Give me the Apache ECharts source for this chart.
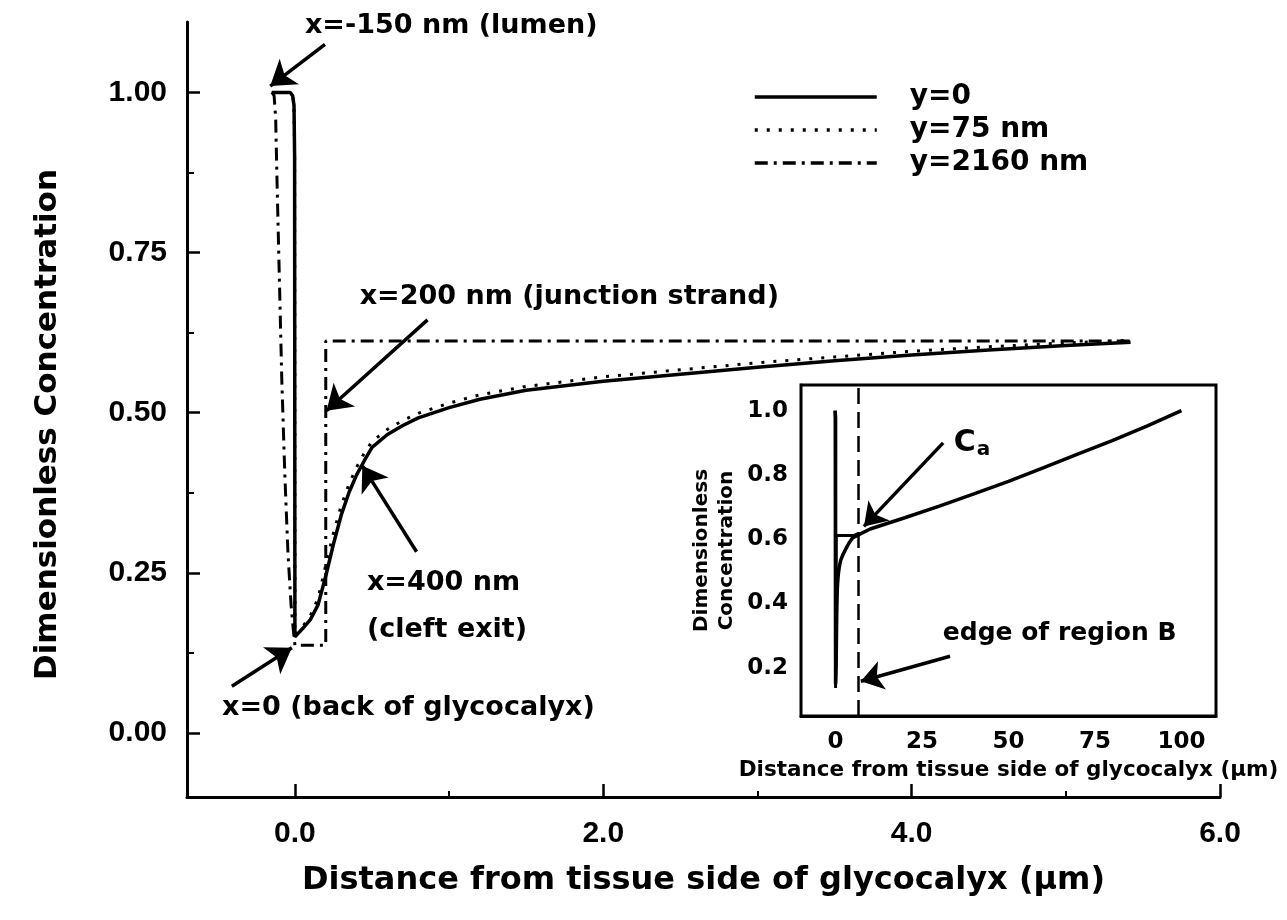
<!DOCTYPE html>
<html><head><meta charset="utf-8">
<script src="https://cdn.jsdelivr.net/npm/echarts@6/dist/echarts.min.js"></script>
<style>html,body{margin:0;padding:0;background:#fff}#c{width:1287px;height:920px}</style>
</head><body><div id="c"></div>
<script>
// ---- main plot data (x in µm, y dimensionless) ----
const mainX = [-0.15, -0.03, -0.015, -0.006, -0.002, 0, 0.05, 0.1, 0.15, 0.2, 0.25, 0.3, 0.35, 0.4, 0.45, 0.5, 0.6, 0.7, 0.8, 1.0, 1.2, 1.5, 2.0, 2.5, 3.0, 3.5, 4.0, 4.5, 5.0, 5.42];
const solidY = [1.0, 1.0, 0.995, 0.98, 0.9, 0.15, 0.163, 0.177, 0.2, 0.245, 0.295, 0.34, 0.375, 0.403, 0.425, 0.446, 0.466, 0.48, 0.492, 0.508, 0.521, 0.535, 0.549, 0.56, 0.571, 0.581, 0.59, 0.598, 0.605, 0.61];
const dottedY = [1.0, 1.0, 0.995, 0.98, 0.9, 0.152, 0.166, 0.183, 0.21, 0.262, 0.312, 0.355, 0.388, 0.415, 0.437, 0.455, 0.474, 0.488, 0.499, 0.515, 0.528, 0.541, 0.556, 0.567, 0.578, 0.587, 0.596, 0.603, 0.609, 0.613];
const dashX = [-0.15, -0.135, -0.125, -0.115, -0.1, -0.085, -0.065, -0.045, -0.025, -0.01, 0, 0.2, 0.2, 5.42];
const dashY = [1.0, 0.995, 0.96, 0.85, 0.7, 0.55, 0.4, 0.28, 0.2, 0.16, 0.137, 0.137, 0.612, 0.612];
const seriesNames = ['y=0', 'y=75 nm', 'y=2160 nm'];

// ---- inset data (x in µm) ----
const insetExtX = [6.5, 10, 20, 30, 40, 50, 60, 70, 80, 90, 100];
const insetExtY = [0.618, 0.632, 0.667, 0.703, 0.741, 0.78, 0.822, 0.865, 0.907, 0.952, 1.0];
const regionBEdge = 6.5;

// ---- ticks ----
const mainXTicks = [0, 2, 4, 6];
const mainXMinor = [1, 3, 5];
const mainYTicks = [0, 0.25, 0.5, 0.75, 1.0];
const mainYMinor = [0.125, 0.375, 0.625, 0.875];
const insetXTicks = [0, 25, 50, 75, 100];
const insetYTicks = [0.2, 0.4, 0.6, 0.8, 1.0];

// ---- annotation arrows [tail, tip] in data coords ----
const mainArrows = [
  [[0.195, 1.075], [-0.16, 1.01]],
  [[0.86, 0.645], [0.205, 0.503]],
  [[0.789, 0.283], [0.437, 0.417]],
  [[-0.409, 0.073], [-0.02, 0.133]]
];
const insetArrows = [
  [[31.1, 0.90], [8.2, 0.64]],
  [[33.1, 0.236], [7.3, 0.158]]
];
const mainNotes = [
  ['x=-150 nm (lumen)', [0.065, 1.103]],
  ['x=200 nm (junction strand)', [0.42, 0.681]],
  ['x=400 nm', [0.467, 0.234]],
  ['(cleft exit)', [0.467, 0.16]],
  ['x=0 (back of glycocalyx)', [-0.473, 0.039]]
];
const insetNotes = [
  ['{c|C}{s|a}', [34.2, 0.90]],
  ['edge of region B', [31, 0.308]]
];

const F = "'Liberation Sans', Arial, sans-serif";
const D = "'DejaVu Sans', sans-serif";
const pts = (xs, ys) => xs.map((x, i) => [x, ys[i]]);
const insetSolid = pts(mainX, solidY).concat(pts(insetExtX.slice(1), insetExtY.slice(1)));
const insetDash = pts(dashX, dashY).concat([[insetExtX[0], insetExtY[0]]]);

const chart = echarts.init(document.getElementById('c'), null, {renderer: 'canvas'});
const blk = '#000';
function arrowLines(arr) {
  return arr.map(a => [{coord: a[0]}, {coord: a[1]}]);
}
const option = {
  animation: false,
  backgroundColor: '#fff',
  grid: [
    {left: 187, top: 22, right: 67, bottom: 123},
    {left: 801, top: 385, width: 415, height: 331, show: true, borderColor: blk, borderWidth: 3, backgroundColor: '#fff', z: 5}
  ],
  legend: {
    data: seriesNames, orient: 'vertical', left: 748, top: 78, itemWidth: 122, itemHeight: 14, itemGap: 5,
    itemStyle: {color: 'rgba(0,0,0,0)', borderColor: 'rgba(0,0,0,0)', borderWidth: 0, opacity: 0},
    lineStyle: {width: 3.5},
    textStyle: {fontFamily: D, fontSize: 28, fontWeight: 'bold', color: blk, lineHeight: 28, padding: [0, 0, 0, 28]},
    selectedMode: false
  },
  xAxis: [
    {gridIndex: 0, type: 'value', min: -0.7, max: 6, position: 'bottom',
     axisLine: {show: true, onZero: false, lineStyle: {color: blk, width: 3}},
     axisTick: {show: true, inside: true, length: 13, customValues: mainXTicks, lineStyle: {color: blk, width: 2.5}},
     axisLabel: {show: true, customValues: mainXTicks, formatter: v => v.toFixed(1), fontFamily: F, fontSize: 30, fontWeight: 'bold', color: blk, margin: 22},
     splitLine: {show: false},
     name: 'Distance from tissue side of glycocalyx (µm)', nameLocation: 'middle', nameGap: 68,
     nameTextStyle: {fontFamily: D, fontSize: 32, fontWeight: 'bold', color: blk}},
    {gridIndex: 0, type: 'value', min: -0.7, max: 6, position: 'bottom',
     axisLine: {show: false, onZero: false}, axisTick: {show: true, inside: true, length: 6, customValues: mainXMinor, lineStyle: {color: blk, width: 2}},
     axisLabel: {show: false}, splitLine: {show: false}},
    {gridIndex: 1, type: 'value', min: -10, max: 110, position: 'bottom',
     axisLine: {show: true, onZero: false, lineStyle: {color: blk, width: 3}},
     axisTick: {show: true, inside: true, length: 9, customValues: insetXTicks, lineStyle: {color: blk, width: 2.5}},
     axisLabel: {show: true, customValues: insetXTicks, fontFamily: D, fontSize: 23, fontWeight: 'bold', color: blk, margin: 15},
     splitLine: {show: false},
     name: 'Distance from tissue side of glycocalyx (µm)', nameLocation: 'middle', nameGap: 43,
     nameTextStyle: {fontFamily: D, fontSize: 21.5, fontWeight: 'bold', color: blk}}
  ],
  yAxis: [
    {gridIndex: 0, type: 'value', min: -0.1, max: 1.11, position: 'left',
     axisLine: {show: true, onZero: false, lineStyle: {color: blk, width: 3}},
     axisTick: {show: true, inside: true, length: 13, customValues: mainYTicks, lineStyle: {color: blk, width: 2.5}},
     axisLabel: {show: true, customValues: mainYTicks, formatter: v => v.toFixed(2), fontFamily: F, fontSize: 30, fontWeight: 'bold', color: blk, margin: 20},
     splitLine: {show: false},
     name: 'Dimensionless Concentration', nameLocation: 'middle', nameGap: 124, nameRotate: 90,
     nameTextStyle: {fontFamily: D, fontSize: 31, fontWeight: 'bold', color: blk, padding: [0, 30, 0, 0]}},
    {gridIndex: 0, type: 'value', min: -0.1, max: 1.11, position: 'left',
     axisLine: {show: false, onZero: false}, axisTick: {show: true, inside: true, length: 7, customValues: mainYMinor, lineStyle: {color: blk, width: 2}},
     axisLabel: {show: false}, splitLine: {show: false}},
    {gridIndex: 1, type: 'value', min: 0.05, max: 1.08, position: 'left',
     axisLine: {show: true, onZero: false, lineStyle: {color: blk, width: 3}},
     axisTick: {show: true, inside: true, length: 9, customValues: insetYTicks, lineStyle: {color: blk, width: 2.5}},
     axisLabel: {show: true, customValues: insetYTicks, formatter: v => v.toFixed(1), fontFamily: D, fontSize: 23, fontWeight: 'bold', color: blk, margin: 13},
     splitLine: {show: false},
     name: 'Dimensionless\nConcentration', nameLocation: 'middle', nameGap: 62, nameRotate: 90,
     nameTextStyle: {fontFamily: D, fontSize: 20, fontWeight: 'bold', color: blk, lineHeight: 25}}
  ],
  series: [
    {name: seriesNames[0], type: 'line', xAxisIndex: 0, yAxisIndex: 0, data: pts(mainX, solidY), symbol: 'none', z: 3,
     lineStyle: {color: blk, width: 3.5, type: 'solid'}, itemStyle: {color: blk}},
    {name: seriesNames[1], type: 'line', xAxisIndex: 0, yAxisIndex: 0, data: pts(mainX, dottedY), symbol: 'none', z: 2,
     lineStyle: {color: blk, width: 3, type: [3, 9]}, itemStyle: {color: blk}},
    {name: seriesNames[2], type: 'line', xAxisIndex: 0, yAxisIndex: 0, data: pts(dashX, dashY), symbol: 'none', z: 2,
     lineStyle: {color: blk, width: 3, type: [13, 6, 3, 6]}, itemStyle: {color: blk}},
    {name: 'arrowsMain', type: 'line', xAxisIndex: 0, yAxisIndex: 0, data: [], symbol: 'none',
     markLine: {silent: true, animation: false, symbol: ['none', 'arrow'], symbolSize: 24, label: {show: false},
       lineStyle: {color: blk, width: 3.5, type: 'solid'}, data: arrowLines(mainArrows)}},
    {name: 'insetSolid', type: 'line', xAxisIndex: 2, yAxisIndex: 2, data: insetSolid, symbol: 'none', z: 10,
     lineStyle: {color: blk, width: 3.5}},
    {name: 'insetDash', type: 'line', xAxisIndex: 2, yAxisIndex: 2, data: insetDash, symbol: 'none', z: 10,
     lineStyle: {color: blk, width: 3}},
    {name: 'insetArrows', type: 'line', xAxisIndex: 2, yAxisIndex: 2, data: [], symbol: 'none', z: 10,
     markLine: {silent: true, animation: false, symbol: ['none', 'arrow'], symbolSize: 22, label: {show: false},
       lineStyle: {color: blk, width: 3.5, type: 'solid'}, data: arrowLines(insetArrows)}},
    {name: 'insetEdge', type: 'line', xAxisIndex: 2, yAxisIndex: 2, data: [], symbol: 'none', z: 10,
     markLine: {silent: true, animation: false, symbol: ['none', 'none'], label: {show: false},
       lineStyle: {color: blk, width: 2.5, type: [16, 8]}, data: [{xAxis: regionBEdge}]}}
  ]
};
chart.setOption(option);

const graphics = [];
mainNotes.forEach(n => {
  const p = chart.convertToPixel({gridIndex: 0}, n[1]);
  graphics.push({type: 'text', x: p[0], y: p[1], z: 20,
    style: {text: n[0], fontFamily: D, fontSize: 27, fontWeight: 'bold', fill: blk, verticalAlign: 'middle', align: 'left'}});
});
insetNotes.forEach((n, i) => {
  const p = chart.convertToPixel({gridIndex: 1}, n[1]);
  graphics.push({type: 'text', x: p[0], y: p[1], z: 20,
    style: i === 0 ? {text: n[0], verticalAlign: 'middle', align: 'left',
      rich: {c: {fontFamily: D, fontSize: 30, fontWeight: 'bold', fill: blk}, s: {fontFamily: D, fontSize: 20, fontWeight: 'bold', fill: blk, padding: [14, 0, 0, 1]}}}
      : {text: n[0], fontFamily: D, fontSize: 25, fontWeight: 'bold', fill: blk, verticalAlign: 'middle', align: 'left'}});
});
chart.setOption({graphic: graphics});
</script></body></html>
